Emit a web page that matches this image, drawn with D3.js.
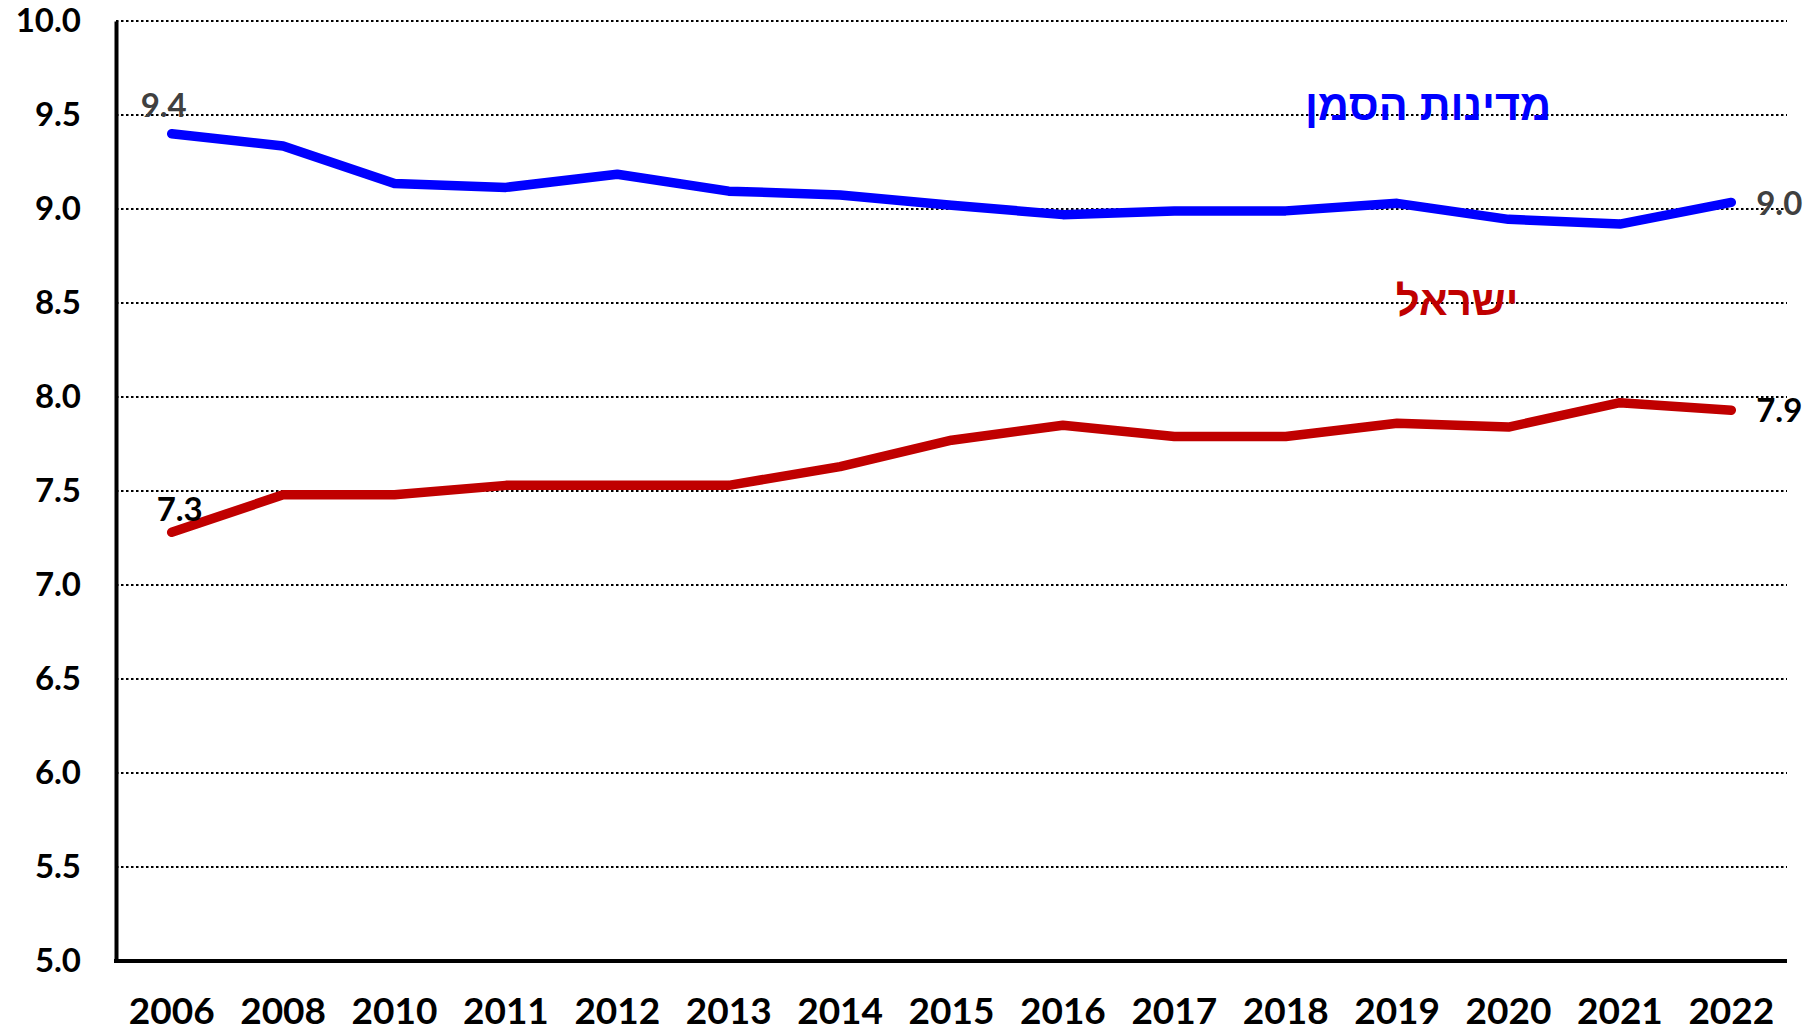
<!DOCTYPE html>
<html>
<head>
<meta charset="utf-8">
<script src="https://cdn.jsdelivr.net/npm/d3@7"></script>
<style>
  html, body { margin: 0; padding: 0; background: #fff; }
  svg { display: block; }
</style>
</head>
<body>
<svg id="chart" width="1811" height="1033"></svg>
<script>
const years = ["2006","2008","2010","2011","2012","2013","2014","2015","2016","2017","2018","2019","2020","2021","2022"];
const peerValues = [9.40, 9.335, 9.135, 9.115, 9.185, 9.095, 9.075, 9.02, 8.97, 8.99, 8.99, 9.03, 8.945, 8.92, 9.035];
const israelValues = [7.28, 7.48, 7.48, 7.53, 7.53, 7.53, 7.63, 7.77, 7.85, 7.79, 7.79, 7.86, 7.84, 7.97, 7.93];
const yTicks = [5.0, 5.5, 6.0, 6.5, 7.0, 7.5, 8.0, 8.5, 9.0, 9.5, 10.0];
const peerName = "מדינות הסמן";
const israelName = "ישראל";

const svg = d3.select("#chart");
const plotLeft = 116, plotRight = 1787, plotTop = 21, plotBottom = 961;

const x = d3.scaleBand().domain(years).range([plotLeft, plotRight]).padding(0);
const xc = d => x(d) + x.bandwidth() / 2;
const y = d3.scaleLinear().domain([5, 10]).range([plotBottom, plotTop]);

const font = "Lato, 'Open Sans', sans-serif";

// gridlines
svg.append("g").selectAll("line").data(yTicks.filter(t => t > 5)).join("line")
  .attr("x1", plotLeft).attr("x2", plotRight)
  .attr("y1", d => y(d)).attr("y2", d => y(d))
  .attr("stroke", "#000").attr("stroke-width", 2)
  .attr("stroke-dasharray", "2.5,2.5");

// y axis
const yAxis = d3.axisLeft(y).tickValues(yTicks).tickFormat(d3.format(".1f")).tickSize(0).tickPadding(35);
const gy = svg.append("g").attr("transform", `translate(${plotLeft},0)`).call(yAxis);
gy.select(".domain").attr("stroke", "#000").attr("stroke-width", 4);
gy.selectAll("text").attr("font-family", font).attr("font-weight", "bold")
  .attr("font-size", 33).attr("fill", "#000");

// x axis
const xAxis = d3.axisBottom(x).tickSize(0).tickPadding(37);
const gx = svg.append("g").attr("transform", `translate(0,${plotBottom})`).call(xAxis);
gx.select(".domain").attr("stroke", "#000").attr("stroke-width", 4).attr("d", `M${plotLeft - 2},0H${plotRight}`);
gx.selectAll("text").attr("font-family", font).attr("font-weight", "bold")
  .attr("font-size", 37).attr("fill", "#000");

// lines
const line = d3.line().x((d, i) => xc(years[i])).y(d => y(d));
svg.append("path").datum(peerValues).attr("d", line)
  .attr("fill", "none").attr("stroke", "#0000FF").attr("stroke-width", 9.5)
  .attr("stroke-linecap", "round").attr("stroke-linejoin", "round");
svg.append("path").datum(israelValues).attr("d", line)
  .attr("fill", "none").attr("stroke", "#C00000").attr("stroke-width", 9.5)
  .attr("stroke-linecap", "round").attr("stroke-linejoin", "round");

// data labels
const last = years.length - 1;
const dataLabels = [
  {i: 0, v: peerValues[0], dx: -8, dy: -17, color: "#404040"},
  {i: 0, v: israelValues[0], dx: 8, dy: -11, color: "#000"},
  {i: last, v: peerValues[last], dx: 48, dy: 13, color: "#404040"},
  {i: last, v: israelValues[last], dx: 48, dy: 12, color: "#000"}
];
svg.append("g").selectAll("text").data(dataLabels).join("text")
  .attr("x", d => xc(years[d.i]) + d.dx)
  .attr("y", d => y(d.v) + d.dy)
  .attr("text-anchor", "middle")
  .attr("font-family", font).attr("font-weight", "bold").attr("font-size", 33)
  .attr("fill", d => d.color)
  .text(d => d3.format(".1f")(d.v));

// series names
const hebFont = "'Liberation Sans', Arial, 'DejaVu Sans', sans-serif";
svg.append("text")
  .attr("x", xc("2019") + 31).attr("y", y(9.473))
  .attr("text-anchor", "middle").attr("direction", "rtl")
  .attr("font-family", hebFont).attr("font-weight", "bold").attr("font-size", 43)
  .attr("fill", "#0000FF").text(peerName);
svg.append("text")
  .attr("x", xc("2019") + 60).attr("y", y(8.436))
  .attr("text-anchor", "middle").attr("direction", "rtl")
  .attr("font-family", hebFont).attr("font-weight", "bold").attr("font-size", 42)
  .attr("fill", "#C00000").text(israelName);
</script>
</body>
</html>
